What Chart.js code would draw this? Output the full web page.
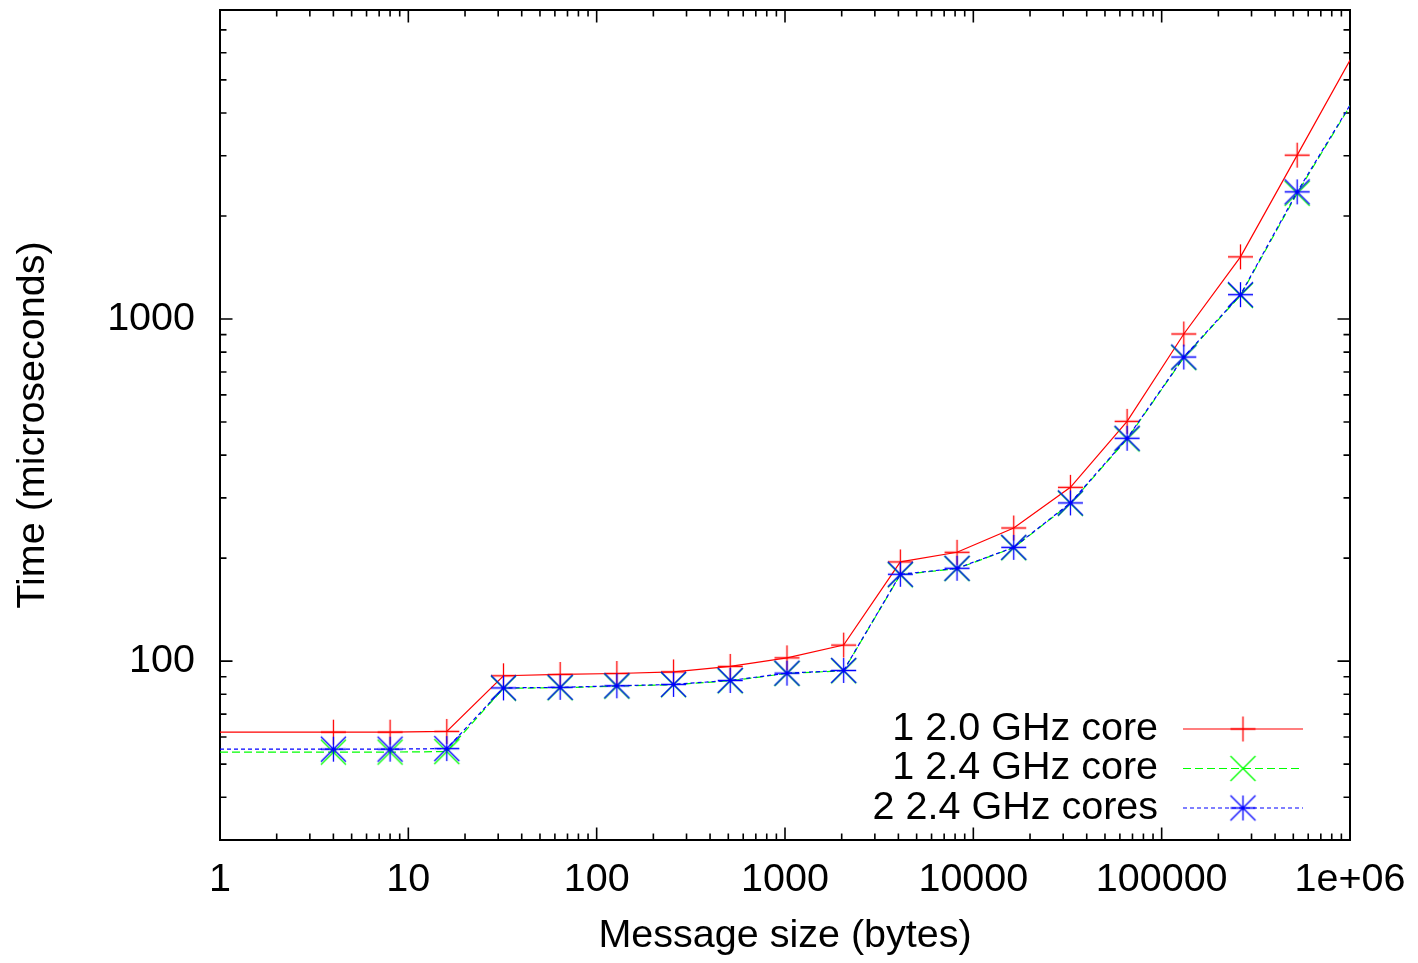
<!DOCTYPE html>
<html>
<head>
<meta charset="utf-8">
<script src="https://cdn.jsdelivr.net/npm/chart.js@4.4.1/dist/chart.umd.min.js"></script>
<style>
html,body{margin:0;padding:0;background:#fff;}
#wrap{width:1418px;height:963px;}
canvas{display:block;}
</style>
</head>
<body>
<div id="wrap"><canvas id="c" width="1418" height="963"></canvas></div>
<script>
// ---- data ----
const messageSizes = [1, 4, 8, 16, 32, 64, 128, 256, 512, 1024, 2048, 4096, 8192, 16384, 32768, 65536, 131072, 262144, 524288, 1048576];
const time1core20 = [62, 62, 62, 62.3, 90.6, 91.4, 92.0, 93.0, 96.5, 102.2, 111.4, 195, 208, 245, 322, 502, 904, 1519, 3012, 5980];
const time1core24 = [54.2, 54.2, 54.2, 54.4, 83.3, 83.6, 84.5, 85.3, 87.6, 92.0, 93.7, 178.8, 186.4, 214.5, 289, 446, 771, 1172, 2330, 4380];
const time2core24 = [55.3, 55.3, 55.3, 55.5, 83.5, 83.8, 84.7, 85.5, 87.8, 92.2, 93.9, 179.4, 186.8, 215, 290, 448, 774, 1178, 2353, 4400];
const seriesLabels = ['1 2.0 GHz core', '1 2.4 GHz core', '2 2.4 GHz cores'];
const xTickValues = [1, 10, 100, 1000, 10000, 100000, 1000000];
const xTickLabels = ['1', '10', '100', '1000', '10000', '100000', '1e+06'];
const yTickValues = [100, 1000];
const yTickLabels = ['100', '1000'];
const xTitle = 'Message size (bytes)';
const yTitle = 'Time (microseconds)';

// ---- styles ----
const FONT = "'Liberation Sans', Arial, Helvetica, sans-serif";
const FS = 39.5;

function makeMarker(kind, color, half, lw) {
  const size = Math.ceil(half * 2 + 4);
  const cv = document.createElement('canvas');
  cv.width = size; cv.height = size;
  const g = cv.getContext('2d');
  const c = size / 2;
  g.strokeStyle = color; g.lineWidth = lw;
  g.beginPath();
  if (kind === '+' || kind === '*') {
    g.moveTo(c - half, c); g.lineTo(c + half, c);
    g.moveTo(c, c - half); g.lineTo(c, c + half);
  }
  if (kind === 'x' || kind === '*') {
    g.moveTo(c - half, c - half); g.lineTo(c + half, c + half);
    g.moveTo(c - half, c + half); g.lineTo(c + half, c - half);
  }
  g.stroke();
  return cv;
}
const markerRed = makeMarker('+', '#ff0000', 12.5, 1.3);
const markerGreen = makeMarker('x', '#00ff00', 12.5, 1.3);
const markerBlue = makeMarker('*', '#0000ff', 12.5, 1.3);

const visibleRadius = (c) => {
  const v = c.raw && c.raw.x;
  return (v >= 4 && v <= 1000000) ? 12 : 0;
};

function series(values) {
  return messageSizes.map((s, i) => ({ x: s, y: values[i] }));
}

const frameTicks = {
  id: 'frameTicks',
  beforeDatasetsDraw(chart) {
    const { ctx, chartArea: { left, right, top, bottom }, scales: { x, y } } = chart;
    ctx.save();
    ctx.strokeStyle = '#000';
    ctx.lineWidth = 1.6;
    ctx.beginPath();
    for (let d = 1; d <= 1000000; d *= 10) {
      for (let m = 1; m <= 9; m++) {
        const v = d * m;
        if (v > x.max) break;
        const px = x.getPixelForValue(v);
        const len = m === 1 ? 12.5 : 6.5;
        ctx.moveTo(px, bottom); ctx.lineTo(px, bottom - len);
        ctx.moveTo(px, top); ctx.lineTo(px, top + len);
      }
    }
    for (let d = 10; d <= 1000; d *= 10) {
      for (let m = 1; m <= 9; m++) {
        const v = d * m;
        if (v < y.min || v > y.max) continue;
        const py = y.getPixelForValue(v);
        const len = m === 1 ? 12.5 : 6.5;
        ctx.moveTo(left, py); ctx.lineTo(left + len, py);
        ctx.moveTo(right, py); ctx.lineTo(right - len, py);
      }
    }
    ctx.stroke();
    ctx.lineWidth = 2;
    ctx.strokeRect(left, top, right - left, bottom - top);
    ctx.restore();
  }
};

const insideLegend = {
  id: 'insideLegend',
  afterDatasetsDraw(chart) {
    const { ctx, chartArea: { right, bottom } } = chart;
    ctx.save();
    ctx.font = FS + 'px ' + FONT;
    ctx.textAlign = 'right';
    ctx.textBaseline = 'middle';
    chart.data.datasets.forEach((ds, i) => {
      const yy = bottom - 111 + i * 39.5;
      ctx.fillStyle = '#000';
      ctx.fillText(ds.label, right - 192, yy);
      ctx.strokeStyle = ds.borderColor;
      ctx.lineWidth = ds.borderWidth;
      ctx.setLineDash(ds.borderDash || []);
      ctx.beginPath();
      ctx.moveTo(right - 167, yy); ctx.lineTo(right - 47, yy);
      ctx.stroke();
      ctx.setLineDash([]);
      const img = ds.pointStyle;
      ctx.drawImage(img, right - 107 - img.width / 2, yy - img.height / 2);
    });
    ctx.restore();
  }
};

new Chart(document.getElementById('c'), {
  type: 'line',
  data: {
    datasets: [
      { label: seriesLabels[0], data: series(time1core20), borderColor: '#ff0000', borderWidth: 1.2,
        pointStyle: markerRed, pointRadius: visibleRadius, order: 3 },
      { label: seriesLabels[1], data: series(time1core24), borderColor: '#00ff00', borderWidth: 1.2,
        borderDash: [8, 4], pointStyle: markerGreen, pointRadius: visibleRadius, order: 2 },
      { label: seriesLabels[2], data: series(time2core24), borderColor: '#0000ff', borderWidth: 1.2,
        borderDash: [4, 3], pointStyle: markerBlue, pointRadius: visibleRadius, order: 1 }
    ]
  },
  options: {
    responsive: false,
    animation: false,
    devicePixelRatio: 1,
    elements: { line: { tension: 0, fill: false } },
    layout: { padding: { top: 10, right: 68, left: 0, bottom: 0 } },
    plugins: { legend: { display: false }, tooltip: { enabled: false } },
    scales: {
      x: {
        type: 'logarithmic', min: 1, max: 1000000,
        grid: { display: false, drawTicks: false },
        border: { display: false },
        afterBuildTicks: (s) => { s.ticks = xTickValues.map(v => ({ value: v })); },
        afterFit: (s) => { s.height = 123; s.paddingLeft = 0; s.paddingRight = 0; },
        ticks: {
          autoSkip: false, maxRotation: 0, minRotation: 0, padding: 16,
          color: '#000', font: { family: FONT, size: FS },
          callback: (v, i) => xTickLabels[i]
        },
        title: { display: true, text: xTitle, color: '#000', font: { family: FONT, size: FS },
                 padding: { top: 0, bottom: 3 } }
      },
      y: {
        type: 'logarithmic', min: 30, max: 8000,
        grid: { display: false, drawTicks: false },
        border: { display: false },
        afterBuildTicks: (s) => { s.ticks = yTickValues.map(v => ({ value: v })); },
        afterFit: (s) => { s.width = 220; s.paddingTop = 0; s.paddingBottom = 0; },
        ticks: {
          autoSkip: false, padding: 25,
          color: '#000', font: { family: FONT, size: FS },
          callback: (v, i) => yTickLabels[i]
        },
        title: { display: true, text: yTitle, color: '#000', font: { family: FONT, size: FS },
                 padding: { top: 9, bottom: 0 } }
      }
    }
  },
  plugins: [frameTicks, insideLegend]
});
</script>
</body>
</html>
